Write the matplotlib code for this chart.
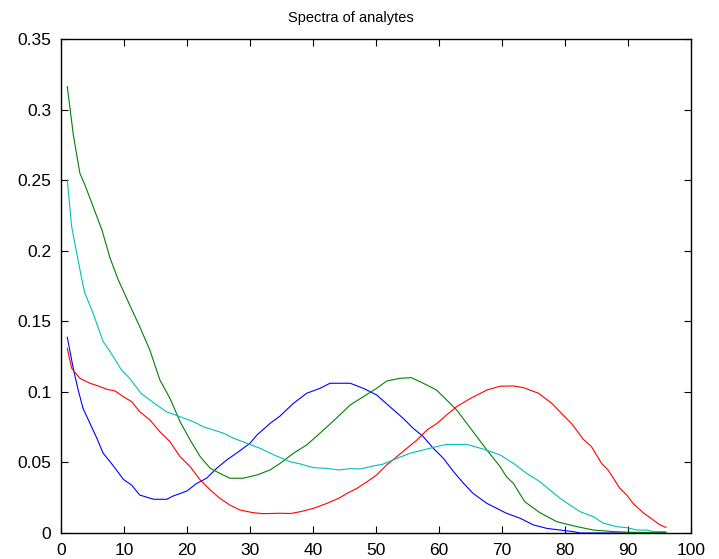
import matplotlib
matplotlib.use("Agg")
import matplotlib.pyplot as plt

# spectra sampled at wavelength channel positions (channel index 1..96)
blue_x = [1, 2, 2.75, 3.5, 4.6, 5.7, 6.7, 7.8, 8.8, 9.9, 11.2, 12.5, 14.7, 16.8,
          17.8, 20, 21.5, 23.1, 24.7, 26.3, 28.4, 30, 31.1, 33.2, 34.8, 36.9, 39,
          41.1, 42.7, 45.9, 48, 50.1, 52.2, 54.3, 55.9, 57.5, 59.1, 60.7, 62.3,
          63.9, 65.4, 67.6, 70.7, 72.9, 75, 77.1, 79.2, 81.3, 82.4, 96]
blue_y = [0.1387, 0.1155, 0.101, 0.0883, 0.0777, 0.0671, 0.0565, 0.0505, 0.0447,
          0.038, 0.034, 0.0269, 0.0239, 0.0239, 0.0262, 0.0298, 0.035, 0.0388,
          0.0458, 0.0517, 0.0583, 0.0636, 0.0694, 0.0777, 0.0830, 0.0919, 0.099,
          0.1025, 0.1061, 0.1061, 0.1025, 0.0978, 0.0895, 0.0813, 0.0742, 0.0683,
          0.06, 0.0529, 0.0435, 0.0352, 0.0281, 0.021, 0.014, 0.0104, 0.0057,
          0.0033, 0.0021, 0.001, 0.0, 0.0]

green_x = [1, 1.96, 3.0, 3.8, 5.1, 6.5, 7.8, 9.1, 10.9, 12.5, 14.1, 15.7, 17.3,
           18.9, 20.5, 22.1, 23.7, 25.2, 26.8, 28.9, 31.1, 33.2, 34.8, 36.9, 39,
           41.1, 43.7, 45.9, 48, 50.1, 51.7, 53.8, 55.6, 57.5, 59.6, 61.2, 62.8,
           65, 67.6, 69.7, 70.7, 71.8, 73.6, 76, 78.7, 81.9, 84.5, 87.7, 90.3, 96]
green_y = [0.3163, 0.2821, 0.2549, 0.2466, 0.2313, 0.2147, 0.1947, 0.1793, 0.1616,
           0.1462, 0.1297, 0.1084, 0.0954, 0.0789, 0.0659, 0.0541, 0.0458, 0.0423,
           0.0388, 0.0388, 0.0411, 0.0447, 0.0494, 0.0565, 0.0624, 0.0707, 0.0813,
           0.0907, 0.0966, 0.1025, 0.1077, 0.1096, 0.1101, 0.1061, 0.1013, 0.0943,
           0.0872, 0.0742, 0.0588, 0.047, 0.0399, 0.0352, 0.0222, 0.0144, 0.008,
           0.0045, 0.0021, 0.001, 0.0005, 0.0002]

red_x = [1, 1.7, 3.0, 4.6, 5.9, 7.3, 8.6, 9.9, 11.2, 12.5, 14.1, 15.7, 17.3, 18.9,
         20.5, 22.1, 23.7, 25.2, 26.8, 28.4, 30.5, 32.1, 34.8, 36.4, 38, 40.1,
         42.2, 44.1, 45.4, 47, 48.6, 50.1, 51.7, 53.3, 54.9, 56.5, 58.1, 59.7,
         61.2, 62.8, 65, 67.6, 69.7, 71.8, 73.4, 75.8, 77.9, 79.7, 81.1, 82.9,
         84.2, 85.8, 86.9, 88.7, 89.8, 90.8, 92.4, 94, 95.1, 96]
red_y = [0.1309, 0.1167, 0.1096, 0.1061, 0.1042, 0.1018, 0.1006, 0.0966, 0.0931,
         0.086, 0.0801, 0.0718, 0.0647, 0.0541, 0.047, 0.0376, 0.0305, 0.0246,
         0.0198, 0.0163, 0.0144, 0.0137, 0.014, 0.0138, 0.0151, 0.0175, 0.021,
         0.0246, 0.0281, 0.0317, 0.0364, 0.0411, 0.0482, 0.0541, 0.06, 0.0659,
         0.073, 0.0777, 0.0836, 0.0895, 0.0954, 0.1013, 0.1040, 0.1042, 0.103,
         0.099, 0.0919, 0.0836, 0.0772, 0.0664, 0.0612, 0.0494, 0.0442, 0.0317,
         0.0269, 0.021, 0.0144, 0.0092, 0.0057, 0.004]

cyan_x = [1, 1.7, 2.5, 3.3, 3.8, 5.1, 6.7, 7.8, 9.6, 10.9, 12.7, 14.8, 16.7, 18.9,
          21, 22.6, 24.2, 25.8, 27.4, 29.5, 31.6, 33.8, 36.4, 38, 40.1, 42.2, 44.1,
          45.9, 47.5, 49.6, 51.2, 53.3, 55.4, 57.5, 59.6, 61.2, 64.4, 67, 69.7,
          71.8, 73.9, 76, 77.6, 79.2, 80.8, 82.4, 84.5, 86.1, 88.2, 89.8, 91.4,
          93, 94, 96]
cyan_y = [0.2502, 0.2171, 0.1982, 0.1800, 0.1699, 0.1557, 0.1356, 0.1285, 0.1155,
          0.1096, 0.099, 0.0919, 0.086, 0.0824, 0.0789, 0.0753, 0.073, 0.0707,
          0.0671, 0.0636, 0.06, 0.0553, 0.0505, 0.0489, 0.0463, 0.0458, 0.0447,
          0.0456, 0.0454, 0.0475, 0.0489, 0.0529, 0.0565, 0.0588, 0.0612, 0.0628,
          0.0628, 0.0595, 0.0553, 0.0494, 0.0423, 0.0364, 0.0305, 0.0246, 0.0198,
          0.0151, 0.0116, 0.0069, 0.0045, 0.0038, 0.0021, 0.0021, 0.001, 0.001]

plt.rcParams['font.family'] = ['Liberation Sans', 'DejaVu Sans']

fig = plt.figure(figsize=(7.19, 5.59), dpi=100)
ax = fig.add_axes([0.0848, 0.0465, 0.8763, 0.8837])

ax.plot(blue_x, blue_y, color=(0, 0, 1), lw=0.8)
ax.plot(green_x, green_y, color=(0, 0.5, 0), lw=0.8)
ax.plot(red_x, red_y, color=(1, 0, 0), lw=0.8)
ax.plot(cyan_x, cyan_y, color=(0, 0.75, 0.75), lw=0.8)

ax.set_xlim(0, 100)
ax.set_ylim(0, 0.35)
ax.set_xticks(range(0, 101, 10))
ax.set_yticks([0, 0.05, 0.1, 0.15, 0.2, 0.25, 0.3, 0.35])
ax.set_yticklabels(['0', '0.05', '0.1', '0.15', '0.2', '0.25', '0.3', '0.35'])
ax.tick_params(direction='in', top=True, right=True, length=5, width=0.8,
               labelsize=12.5, pad=7)
for s in ax.spines.values():
    s.set_linewidth(1.0)

ax.set_title("Spectra of analytes", fontsize=10.5, pad=12, x=0.46)

fig.savefig("out.png", dpi=100)
